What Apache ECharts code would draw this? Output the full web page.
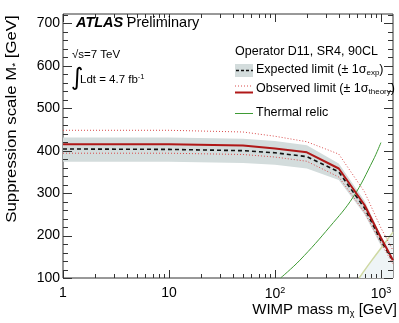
<!DOCTYPE html>
<html><head><meta charset="utf-8">
<script src="https://cdn.jsdelivr.net/npm/echarts@6/dist/echarts.min.js"></script>
<style>html,body{margin:0;padding:0;background:#fff}#c{width:399px;height:323px}</style>
</head><body><div id="c"></div>
<script>
// ---- data ----
const massPoints = [1, 10, 50, 100, 200, 400, 700, 1000, 1300];
const expectedLimit = [404, 403, 400, 395, 386, 350, 265, 188, 140];
const expectedLow = [374, 374, 371, 367, 358, 331, 250, 176, 132];
const expectedHigh = [431, 431, 428, 423, 413, 370, 282, 200, 149];
const observedLimit = [415, 415, 412, 405, 396, 358, 272, 195, 142];
const observedUp = [448, 448, 444, 434, 421, 392, 303, 218, 165];
const observedDown = [394, 394, 391, 385, 375, 338, 255, 182, 133];
const relicMass = [113, 172, 330, 548, 846, 1000];
const relicScale = [100, 142, 221, 291, 378, 419];
const validityMass = [624, 700, 800, 1000, 1300];
const validityScale = [100, 118, 138, 170, 208];
const xMajorTicks = [1, 10, 100, 1000];
const xMinorTicks = [2,3,4,5,6,7,8,9,20,30,40,50,60,70,80,90,200,300,400,500,600,700,800,900];
const yMajorTicks = [100, 200, 300, 400, 500, 600, 700];
const yMinorTicks = [120,140,160,180,220,240,260,280,320,340,360,380,420,440,460,480,520,540,560,580,620,640,660,680,720];
const X_MIN = 1, X_MAX = 1300, Y_MIN = 100, Y_MAX = 722;

const F = 'Liberation Sans, Arial, Helvetica, sans-serif';
const pairs = (xs, ys) => xs.map((x, i) => [x, ys[i]]);

const tickData = [];
xMajorTicks.forEach(v => tickData.push([v, Y_MIN, 0]));
xMinorTicks.forEach(v => tickData.push([v, Y_MIN, 1]));
yMajorTicks.forEach(v => tickData.push([X_MIN, v, 2]));
yMinorTicks.forEach(v => tickData.push([X_MIN, v, 3]));

function renderTick(params, api) {
  const k = api.value(2);
  const st = {stroke: '#333', lineWidth: 1};
  if (k < 2) {
    const v = api.value(0);
    const len = k === 0 ? 8 : 4;
    const b = api.coord([v, Y_MIN]), t = api.coord([v, Y_MAX]);
    const x = Math.round(b[0]) + 0.5;
    return {type: 'group', children: [
      {type: 'line', shape: {x1: x, y1: b[1], x2: x, y2: b[1] - len}, style: st},
      {type: 'line', shape: {x1: x, y1: t[1], x2: x, y2: t[1] + len}, style: st}
    ]};
  } else {
    const v = api.value(1);
    const len = k === 2 ? 9 : 5;
    const l = api.coord([X_MIN, v]), r = api.coord([X_MAX, v]);
    const y = Math.round(l[1]) + 0.5;
    return {type: 'group', children: [
      {type: 'line', shape: {x1: l[0], y1: y, x2: l[0] + len, y2: y}, style: st},
      {type: 'line', shape: {x1: r[0], y1: y, x2: r[0] - len, y2: y}, style: st}
    ]};
  }
}

function renderBand(params, api) {
  const pts = [];
  massPoints.forEach((m, i) => pts.push(api.coord([m, expectedHigh[i]])));
  for (let i = massPoints.length - 1; i >= 0; i--) pts.push(api.coord([massPoints[i], expectedLow[i]]));
  return {type: 'polygon', shape: {points: pts}, style: {fill: '#d3dcdc'}};
}

const chart = echarts.init(document.getElementById('c'), null, {renderer: 'canvas'});
const lineBase = {type: 'line', showSymbol: false, symbol: 'none', silent: true};

function txt(x, y, text, opts) {
  return Object.assign({type: 'text', x: x, y: y, silent: true, z: 50,
    style: Object.assign({text: text, fontFamily: F, fontSize: 12.5, fill: '#000',
      align: 'left', verticalAlign: 'middle', textAlign: 'left', textVerticalAlign: 'middle'}, opts.style || {})},
    opts.extra || {});
}

const option = {
  animation: false,
  grid: {left: 63, right: 6, top: 14, bottom: 45, show: true, borderColor: '#333', borderWidth: 1},
  xAxis: {
    type: 'log', logBase: 10, min: X_MIN, max: X_MAX,
    axisLine: {show: false}, axisTick: {show: false}, splitLine: {show: false},
    axisLabel: {
      fontFamily: F, fontSize: 14, color: '#000', margin: 8,
      formatter: function (v) {
        const l = Math.log10(v), r = Math.round(l);
        if (Math.abs(l - r) > 1e-6) return '';
        if (r === 0) return '1';
        if (r === 1) return '10';
        return '10{sup|' + r + '}';
      },
      rich: {sup: {fontSize: 9, fontFamily: F, color: '#000', verticalAlign: 'top', padding: [0, 0, 8, 0]}}
    }
  },
  yAxis: {
    type: 'value', min: Y_MIN, max: Y_MAX, interval: 100,
    axisLine: {show: false}, axisTick: {show: false}, splitLine: {show: false},
    axisLabel: {fontFamily: F, fontSize: 14, color: '#000', margin: 3,
      formatter: v => (v % 100 === 0 ? String(v) : '')}
  },
  series: [
    Object.assign({}, lineBase, {name: 'validity', data: pairs(validityMass, validityScale), smooth: 0.3,
      lineStyle: {color: '#cfd9a3', width: 1.5}, areaStyle: {color: '#eef4f6', opacity: 1, origin: 'start'}}),
    {type: 'custom', name: 'band', silent: true, data: [[X_MIN, Y_MIN]], renderItem: renderBand, clip: true},
    Object.assign({}, lineBase, {name: 'relic', data: pairs(relicMass, relicScale), smooth: 0.4,
      lineStyle: {color: '#3f9b35', width: 1}}),
    Object.assign({}, lineBase, {name: 'obsUp', data: pairs(massPoints, observedUp),
      lineStyle: {color: '#d84a4a', width: 1, type: [1, 2]}}),
    Object.assign({}, lineBase, {name: 'obsDown', data: pairs(massPoints, observedDown),
      lineStyle: {color: '#d84a4a', width: 1, type: [1, 2]}}),
    Object.assign({}, lineBase, {name: 'expected', data: pairs(massPoints, expectedLimit),
      lineStyle: {color: '#111', width: 1.6, type: [4, 3]}}),
    Object.assign({}, lineBase, {name: 'observed', data: pairs(massPoints, observedLimit),
      lineStyle: {color: '#b01818', width: 2}}),
    {type: 'custom', name: 'ticks', silent: true, data: tickData, renderItem: renderTick, z: 10, clip: false}
  ],
  graphic: [
    txt(76, 23, '{a|ATLAS} {b|Preliminary}', {style: {rich: {
      a: {fontFamily: F, fontSize: 14.5, fontWeight: 'bold', fontStyle: 'italic', fill: '#000'},
      b: {fontFamily: F, fontSize: 14.5, fill: '#000'}}}}),
    txt(72, 55, '√s=7 TeV', {style: {fontSize: 11.5}}),
    txt(71, 79, '∫', {style: {fontSize: 24, fontFamily: 'DejaVu Sans, sans-serif'}}),
    txt(80, 80, 'Ldt = 4.7 fb{s|-1}', {style: {fontSize: 11.5, rich: {s: {fontSize: 7.5, fontFamily: F, verticalAlign: 'top', padding: [0, 0, 6, 0]}}}}),
    txt(235, 52, 'Operator D11, SR4, 90CL', {style: {fontSize: 12.5}}),
    {type: 'rect', silent: true, z: 50, shape: {x: 235, y: 64, width: 18, height: 13}, style: {fill: '#d3dcdc'}},
    {type: 'line', silent: true, z: 50, shape: {x1: 236, y1: 70.5, x2: 253, y2: 70.5}, style: {stroke: '#111', lineWidth: 1.6, lineDash: [3, 2]}},
    txt(256, 70, 'Expected limit (± 1σ{s|exp})', {style: {rich: {s: {fontSize: 8, fontFamily: F, verticalAlign: 'bottom', padding: [6, 0, 0, 0]}}}}),
    {type: 'line', silent: true, z: 50, shape: {x1: 235, y1: 86, x2: 253, y2: 86}, style: {stroke: '#d84a4a', lineWidth: 1, lineDash: [1, 2]}},
    {type: 'line', silent: true, z: 50, shape: {x1: 235, y1: 92.5, x2: 253, y2: 92.5}, style: {stroke: '#b01818', lineWidth: 2}},
    txt(256, 89, 'Observed limit (± 1σ{s|theory})', {style: {rich: {s: {fontSize: 8, fontFamily: F, verticalAlign: 'bottom', padding: [6, 0, 0, 0]}}}}),
    {type: 'line', silent: true, z: 50, shape: {x1: 235, y1: 113.5, x2: 253, y2: 113.5}, style: {stroke: '#3f9b35', lineWidth: 1}},
    txt(256, 113, 'Thermal relic', {style: {}}),
    txt(397, 310, 'WIMP mass m{s|χ} [GeV]', {style: {fontSize: 15, align: 'right', textAlign: 'right',
      rich: {s: {fontSize: 9, fontFamily: F, verticalAlign: 'bottom', padding: [7, 0, 0, 0]}}}}),
    txt(12, 119, 'Suppression scale M{s|*} [GeV]', {style: {fontSize: 15, align: 'center', textAlign: 'center',
      rich: {s: {fontSize: 9, fontFamily: F, verticalAlign: 'bottom', padding: [7, 0, 0, 0]}}},
      extra: {rotation: Math.PI / 2, scaleX: 1.12}})
  ]
};
chart.setOption(option);
</script></body></html>
